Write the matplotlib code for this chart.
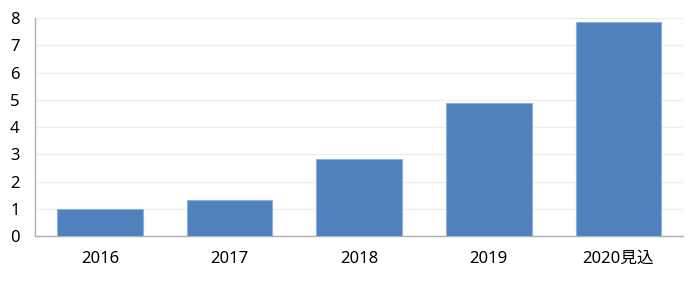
import matplotlib
matplotlib.use('Agg')
import matplotlib.pyplot as plt

plt.rcParams['font.family'] = ['Noto Sans', 'Noto Sans CJK JP', 'DejaVu Sans']

years = ['2016', '2017', '2018', '2019', '2020見込']
values = [1.0, 1.32, 2.83, 4.88, 7.84]

fig = plt.figure(figsize=(7, 2.83), dpi=100)
ax = fig.add_axes([0.05, 0.166, 0.926, 0.770])

ax.bar(range(len(years)), values, width=0.66, color='#4F81BD',
       edgecolor='#8EB0DC', linewidth=0.8, zorder=3)

ax.set_xlim(-0.5, len(years) - 0.5)
ax.set_ylim(0, 8)
ax.set_yticks(range(0, 9))
ax.set_xticks(range(len(years)))
ax.set_xticklabels(years)

ax.grid(axis='y', color='#EFEFE6', linewidth=1, zorder=0)
for s in ['top', 'right']:
    ax.spines[s].set_visible(False)
for s in ['left', 'bottom']:
    ax.spines[s].set_color('#B0B0B0')
    ax.spines[s].set_linewidth(1)
ax.tick_params(axis='both', length=0, labelsize=12, colors='#000000')
ax.tick_params(axis='x', pad=11)
ax.tick_params(axis='y', pad=11)

plt.savefig('out.png', dpi=100)
